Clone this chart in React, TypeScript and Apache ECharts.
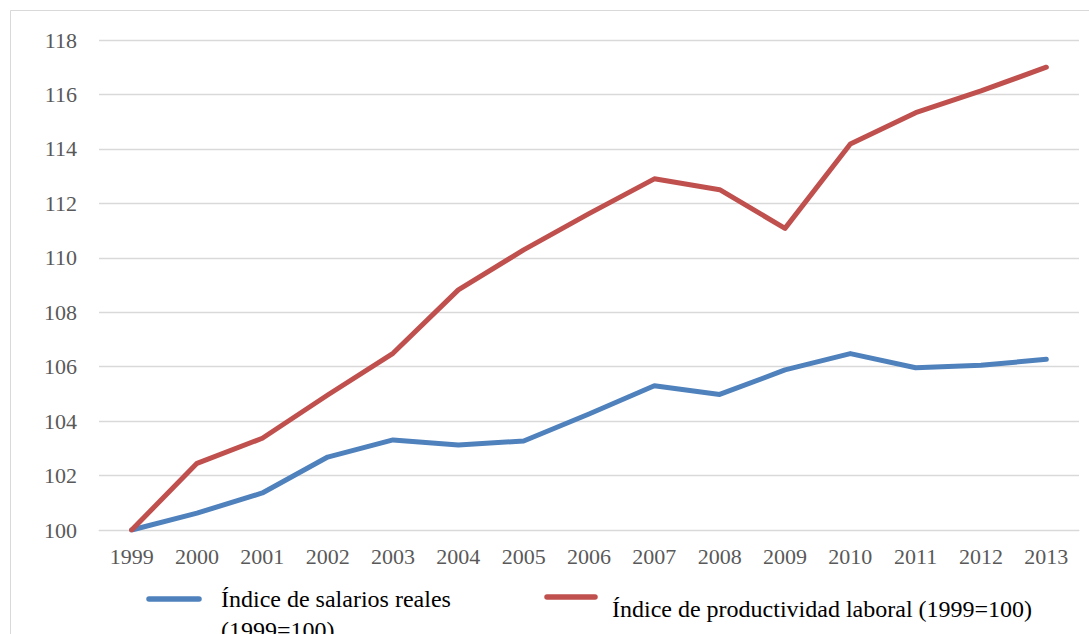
import React, { useEffect, useRef } from "react";
import * as echarts from "echarts";

const years = ["1999", "2000", "2001", "2002", "2003", "2004", "2005", "2006", "2007", "2008", "2009", "2010", "2011", "2012", "2013"];

const salariosReales = [100, 100.62, 101.36, 102.68, 103.31, 103.12, 103.27, 104.26, 105.3, 104.98, 105.88, 106.48, 105.96, 106.05, 106.27];

const productividadLaboral = [100, 102.45, 103.37, 104.96, 106.49, 108.82, 110.29, 111.62, 112.9, 112.5, 111.08, 114.18, 115.33, 116.13, 117.0];

const salariosName = "Índice de salarios reales (1999=100)";
const productividadName = "Índice de productividad laboral (1999=100)";
const salariosLegendLines = ["Índice de salarios reales", "(1999=100)"];

const BLUE = "#4f81bd";
const RED = "#c0504d";
const GRID = "#d9d9d9";
const FONT = "Liberation Serif";

export default function App() {
  const ref = useRef<HTMLDivElement>(null);

  useEffect(() => {
    if (!ref.current) return;
    const chart = echarts.init(ref.current, null, { renderer: "svg" });
    chart.setOption({
      animation: false,
      backgroundColor: "#ffffff",
      textStyle: { fontFamily: FONT },
      grid: { left: 99, right: 10, top: 40, bottom: 104 },
      xAxis: {
        type: "category",
        data: years,
        boundaryGap: true,
        axisLine: { show: true, lineStyle: { color: GRID, width: 1 } },
        axisTick: { show: false },
        axisLabel: { color: "#595959", fontFamily: FONT, fontSize: 22, margin: 15 },
        splitLine: { show: false },
      },
      yAxis: {
        type: "value",
        min: 100,
        max: 118,
        interval: 2,
        axisLine: { show: false },
        axisTick: { show: false },
        axisLabel: { color: "#595959", fontFamily: FONT, fontSize: 22, margin: 22 },
        splitLine: { show: true, lineStyle: { color: GRID, width: 1.3 } },
      },
      series: [
        {
          name: salariosName,
          type: "line",
          data: salariosReales,
          symbol: "none",
          lineStyle: { color: BLUE, width: 5, cap: "round", join: "round" },
          itemStyle: { color: BLUE },
          z: 3,
        },
        {
          name: productividadName,
          type: "line",
          data: productividadLaboral,
          symbol: "none",
          lineStyle: { color: RED, width: 5, cap: "round", join: "round" },
          itemStyle: { color: RED },
          z: 4,
        },
      ],
      graphic: [
        {
          type: "rect",
          silent: true,
          shape: { x: 10.5, y: 10.5, width: 1200, height: 1000 },
          style: { fill: "none", stroke: GRID, lineWidth: 1 },
        },
        {
          type: "line",
          silent: true,
          shape: { x1: 149, y1: 599, x2: 199, y2: 599 },
          style: { stroke: BLUE, lineWidth: 5.5, lineCap: "round" },
        },
        {
          type: "text",
          silent: true,
          x: 221,
          y: 583.5,
          style: {
            text: salariosLegendLines.join("\n"),
            fill: "#000000",
            fontFamily: FONT,
            fontSize: 24,
            lineHeight: 31,
            verticalAlign: "top",
          },
        },
        {
          type: "line",
          silent: true,
          shape: { x1: 547, y1: 597, x2: 595, y2: 597 },
          style: { stroke: RED, lineWidth: 5.5, lineCap: "round" },
        },
        {
          type: "text",
          silent: true,
          x: 612,
          y: 609,
          style: {
            text: productividadName,
            fill: "#000000",
            fontFamily: FONT,
            fontSize: 24,
            verticalAlign: "middle",
          },
        },
      ],
    });
    return () => chart.dispose();
  }, []);

  return (
    <div
      ref={ref}
      style={{ position: "absolute", left: 0, top: 0, width: 1089, height: 634 }}
    />
  );
}
